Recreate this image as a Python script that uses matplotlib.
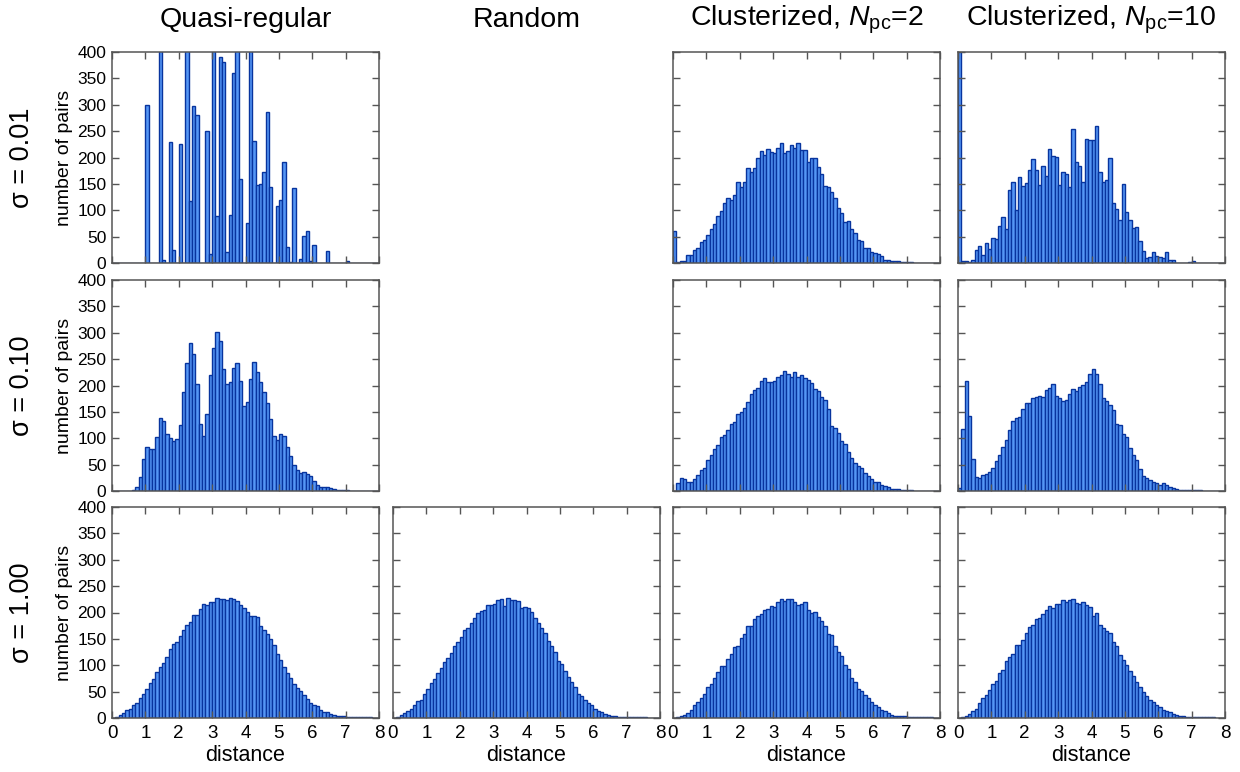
import numpy as np
import matplotlib
matplotlib.use("Agg")
import matplotlib.pyplot as plt

plt.rcParams['font.family'] = ['Liberation Sans', 'DejaVu Sans']
plt.rcParams['mathtext.fontset'] = 'custom'
plt.rcParams['mathtext.rm'] = 'Liberation Sans'
plt.rcParams['mathtext.it'] = 'Liberation Sans:italic'

# histogram bins: 0..8, width 0.1
bin_width = 0.1
bin_left = np.arange(80) * bin_width

# counts per bin (values above 400 are cut off in the figure)
quasi_001 = [0, 0, 0, 0, 0, 0, 0, 0, 0, 0,
             300, 0, 0, 0, 450, 5, 0, 230, 25, 0,
             225, 0, 450, 118, 297, 280, 0, 0, 251, 18,
             450, 90, 390, 381, 20, 91, 360, 450, 159, 0,
             75, 450, 232, 148, 149, 172, 286, 144, 0, 108,
             119, 192, 31, 1, 143, 0, 8, 51, 60, 4,
             35, 0, 0, 0, 23, 0, 0, 0, 0, 0,
             3, 0, 0, 0, 0, 0, 0, 0, 0, 0]
quasi_010 = [0, 0, 0, 0, 0, 0, 1, 8, 26, 60,
             83, 80, 79, 102, 138, 133, 109, 100, 94, 98,
             125, 188, 242, 281, 260, 203, 127, 104, 146, 220,
             271, 301, 284, 232, 203, 206, 234, 243, 209, 161,
             169, 213, 245, 226, 206, 187, 167, 137, 104, 97,
             108, 105, 84, 66, 50, 40, 34, 36, 33, 28,
             19, 11, 8, 8, 7, 6, 3, 2, 1, 1,
             1, 0, 0, 0, 0, 0, 0, 0, 0, 0]
quasi_100 = [0, 1, 5, 9, 15, 17, 25, 28, 38, 46,
             55, 66, 73, 88, 97, 104, 116, 131, 140, 145,
             156, 167, 176, 182, 195, 195, 207, 217, 215, 219,
             219, 228, 225, 225, 224, 227, 226, 222, 215, 209,
             201, 194, 193, 191, 175, 167, 159, 149, 139, 121,
             110, 97, 85, 76, 65, 57, 51, 43, 36, 29,
             25, 22, 15, 12, 11, 8, 6, 4, 3, 3,
             2, 1, 1, 1, 1, 1, 1, 1, 0, 0]
random_100 = [0, 2, 5, 9, 13, 18, 25, 33, 35, 45,
              55, 66, 74, 86, 95, 107, 114, 124, 136, 145,
              154, 166, 170, 181, 189, 200, 203, 205, 215, 215,
              217, 223, 226, 213, 228, 224, 224, 221, 209, 210,
              209, 201, 190, 180, 171, 161, 146, 137, 126, 108,
              103, 89, 77, 68, 58, 45, 41, 35, 28, 25,
              18, 14, 11, 8, 6, 4, 3, 2, 1, 1,
              1, 1, 1, 1, 1, 1, 0, 0, 0, 0]
clus2_001 = [60, 1, 3, 4, 16, 15, 24, 29, 39, 44,
             53, 65, 74, 90, 98, 114, 123, 120, 129, 153,
             145, 154, 180, 173, 181, 200, 213, 205, 216, 210,
             208, 218, 227, 209, 213, 224, 218, 227, 214, 214,
             192, 199, 199, 182, 169, 146, 145, 134, 123, 105,
             95, 78, 79, 65, 56, 43, 41, 29, 28, 21,
             19, 17, 13, 6, 6, 3, 3, 3, 2, 1,
             1, 1, 0, 0, 0, 0, 0, 0, 0, 0]
clus2_010 = [0, 15, 25, 22, 18, 17, 22, 30, 39, 44,
             58, 68, 79, 88, 103, 106, 116, 127, 131, 146,
             150, 157, 168, 183, 191, 195, 208, 214, 207, 207,
             209, 216, 219, 227, 222, 217, 225, 217, 220, 215,
             210, 204, 193, 190, 179, 173, 156, 124, 120, 110,
             94, 90, 73, 63, 53, 48, 43, 34, 28, 23,
             18, 17, 11, 10, 7, 4, 3, 3, 1, 1,
             1, 1, 0, 0, 0, 0, 0, 0, 0, 0]
clus2_100 = [0, 1, 3, 6, 10, 16, 25, 30, 38, 46,
             58, 64, 75, 87, 99, 98, 112, 122, 134, 137,
             152, 160, 174, 174, 187, 194, 198, 205, 207, 212,
             210, 220, 225, 222, 225, 226, 220, 214, 217, 219,
             205, 199, 201, 192, 184, 174, 159, 158, 136, 125,
             117, 101, 93, 75, 68, 55, 52, 43, 37, 30,
             24, 20, 15, 13, 10, 6, 4, 4, 3, 3,
             2, 1, 1, 1, 1, 1, 1, 1, 0, 0]
clus10_001 = [1000, 3, 3, 2, 6, 25, 32, 16, 38, 27,
              48, 45, 70, 87, 64, 139, 154, 100, 163, 146,
              152, 177, 197, 176, 148, 183, 165, 217, 203, 201,
              148, 172, 169, 145, 254, 192, 183, 154, 235, 233,
              234, 259, 172, 153, 157, 200, 114, 103, 81, 150,
              97, 81, 67, 68, 41, 22, 10, 11, 21, 13,
              11, 10, 21, 6, 5, 0, 0, 0, 0, 1,
              4, 0, 0, 0, 0, 0, 0, 0, 0, 0]
clus10_010 = [6, 117, 208, 142, 60, 27, 25, 30, 32, 36,
              43, 57, 69, 83, 96, 116, 132, 138, 140, 156,
              166, 166, 177, 178, 181, 178, 191, 196, 203, 180,
              177, 170, 173, 183, 194, 190, 198, 201, 206, 221,
              231, 222, 203, 176, 170, 163, 154, 127, 126, 108,
              102, 81, 68, 59, 41, 29, 24, 20, 17, 16,
              11, 16, 11, 7, 5, 3, 2, 1, 1, 1,
              1, 1, 1, 0, 0, 0, 0, 0, 0, 0]
clus10_100 = [0, 1, 3, 7, 13, 18, 28, 37, 44, 53,
              64, 71, 86, 91, 109, 115, 122, 138, 139, 147,
              162, 172, 176, 188, 189, 198, 205, 212, 208, 217,
              217, 224, 220, 223, 225, 218, 217, 219, 215, 211,
              194, 200, 176, 171, 165, 161, 144, 136, 120, 110,
              101, 89, 79, 68, 59, 49, 41, 34, 31, 25,
              21, 16, 13, 11, 8, 5, 4, 3, 2, 2,
              1, 1, 1, 1, 1, 1, 1, 0, 0, 0]

col_titles = ['Quasi-regular', 'Random',
              r'Clusterized, $N_{\rm pc}$=2', r'Clusterized, $N_{\rm pc}$=10']
row_titles = ['σ = 0.01', 'σ = 0.10', 'σ = 1.00']

# grid[row][col], None = no panel
grid = [[quasi_001, None, clus2_001, clus10_001],
        [quasi_010, None, clus2_010, clus10_010],
        [quasi_100, random_100, clus2_100, clus10_100]]

W, H = 1240, 772
col_x = [112, 393, 673, 958]
col_w = 267
row_y = [52, 280, 507]
row_h = 211

fig = plt.figure(figsize=(W / 100, H / 100), dpi=100)

face = '#5596f5'
edge = '#08349e'
spine_c = '#555555'

for r in range(3):
    for c in range(4):
        counts = grid[r][c]
        if counts is None:
            continue
        ax = fig.add_axes([col_x[c] / W, 1 - (row_y[r] + row_h) / H, col_w / W, row_h / H])
        ax.bar(bin_left, counts, width=bin_width, align='edge',
               color=face, edgecolor=edge, linewidth=1.0)
        ax.set_xlim(0, 8)
        ax.set_ylim(0, 400)
        ax.set_xticks(range(0, 9))
        ax.set_yticks(range(0, 401, 50))
        ax.tick_params(direction='in', top=True, right=True, length=5,
                       width=1, color=spine_c, labelsize=12.5, pad=4)
        ax.tick_params(axis='x', labelsize=13.5, pad=5)
        for s in ax.spines.values():
            s.set_color(spine_c)
            s.set_linewidth(1.1)
        if c == 0:
            ax.set_ylabel('number of pairs', fontsize=14, labelpad=3)
        else:
            ax.tick_params(labelleft=False)
        if r == 2:
            ax.set_xlabel('distance', fontsize=15.5, labelpad=2)
        else:
            ax.tick_params(labelbottom=False)

for c in range(4):
    fig.text((col_x[c] + col_w / 2) / W, 1 - 20 / H, col_titles[c],
             ha='center', va='center', fontsize=20.5)

for r in range(3):
    fig.text(22 / W, 1 - (row_y[r] + row_h / 2) / H, row_titles[r],
             ha='center', va='center', rotation=90, fontsize=19.5)

fig.savefig('out.png', dpi=100)
